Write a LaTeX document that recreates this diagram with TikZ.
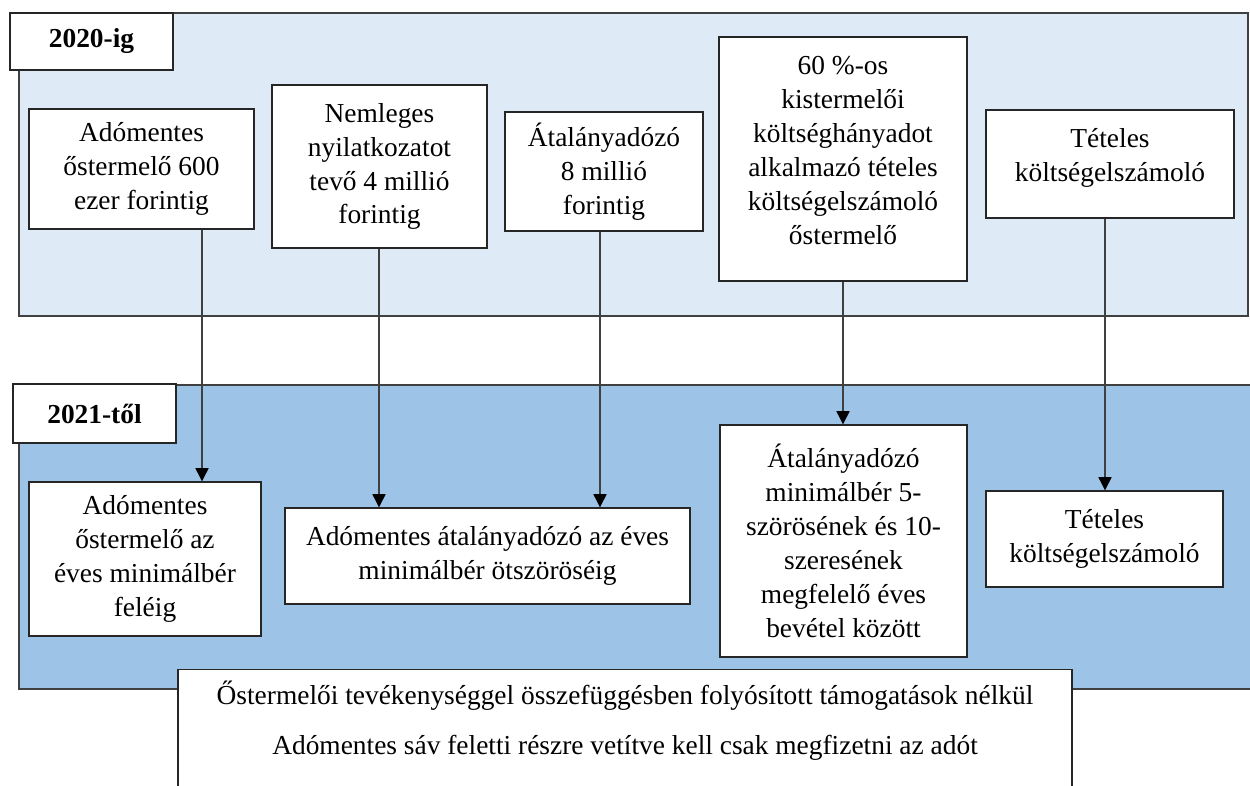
\documentclass[tikz,border=0pt]{standalone}
\usepackage{fontspec}
\setmainfont{Liberation Serif}
\usetikzlibrary{arrows.meta}

\definecolor{oldband}{HTML}{DEEBF7}
\definecolor{newband}{HTML}{9DC3E6}
\definecolor{edgegray}{HTML}{404040}

\begin{document}
\begin{tikzpicture}[x=0.02cm, y=-0.02cm,
	every node/.style={font=\fontsize{15.6pt}{19.3pt}\selectfont, align=center, inner sep=2pt},
	box/.style={rectangle, draw=black!85, line width=0.8pt, fill=white},
	yearbox/.style={box, font=\fontsize{15.6pt}{19.3pt}\selectfont\bfseries, minimum width=3.26cm},
	band/.style={draw=edgegray, line width=0.9pt},
	arrow/.style={draw=black!75, line width=0.6pt, -{Triangle[width=7.5pt,length=7.5pt,color=black]}}]
			\useasboundingbox (0,0) rectangle (1250,785);
			
			% the two periods
			\draw[band, fill=oldband] (19,13) rectangle (1248,316);
			\draw[band, fill=newband] (19,385) rectangle (1256,689);
			
			\node[yearbox, minimum height=1.14cm] (old) at (91.5,41.5){2020-ig};
			\node[yearbox, minimum height=1.18cm] (new) at (94.5,413.5){2021-től};
			
			% until 2020
			\node[box, minimum width=4.5cm, minimum height=2.4cm] (a1) at (141.5,169){Adómentes\\őstermelő 600\\ezer forintig};
			\node[box, minimum width=4.3cm, minimum height=3.26cm] (a2) at (379.5,166.5){Nemleges\\nyilatkozatot\\tevő 4 millió\\forintig};
			\node[box, minimum width=3.96cm, minimum height=2.38cm] (a3) at (604,171.5){Átalányadózó\\8 millió\\forintig};
			\node[box, minimum width=4.96cm, minimum height=4.88cm, text depth=10pt] (a4) at (843,159){60 \%-os\\kistermelői\\költséghányadot\\alkalmazó tételes\\költségelszámoló\\őstermelő};
			\node[box, minimum width=4.96cm, minimum height=2.16cm, text depth=10pt] (a5) at (1110,164){Tételes\\költségelszámoló};
			
			% from 2021
			\node[box, minimum width=4.64cm, minimum height=3.08cm] (b1) at (145,559){Adómentes\\őstermelő az\\éves minimálbér\\feléig};
			\node[box, minimum width=8.1cm, minimum height=1.92cm] (b2) at (487.5,556){Adómentes átalányadózó az éves\\minimálbér ötszöröséig};
			\node[box, minimum width=4.94cm, minimum height=4.64cm] (b3) at (843.5,541){Átalányadózó\\minimálbér 5-\\szörösének és 10-\\szeresének\\megfelelő éves\\bevétel között};
			\node[box, minimum width=4.74cm, minimum height=1.92cm] (b4) at (1104.5,539){Tételes\\költségelszámoló};
			
			\node[box, anchor=north, minimum width=17.88cm, minimum height=3cm] (note) at (625,669){};
			\node (line1) at (625,696){Őstermelői tevékenységgel összefüggésben folyósított támogatások nélkül};
			\node (line2) at (625,748){Adómentes sáv feletti részre vetítve kell csak megfizetni az adót};
			
			% arrows
			\coordinate (k1) at (202,0);
			\coordinate (k2) at (379,0);
			\coordinate (k3) at (600,0);
			\coordinate (k4) at (843,0);
			\coordinate (k5) at (1105,0);
			
			\draw[arrow] (a1.south -| k1) -- (b1.north -| k1);
			\draw[arrow] (a2.south -| k2) -- (b2.north -| k2);
			\draw[arrow] (a3.south -| k3) -- (b2.north -| k3);
			\draw[arrow] (a4.south -| k4) -- (b3.north -| k4);
			\draw[arrow] (a5.south -| k5) -- (b4.north -| k5);
\end{tikzpicture}
\end{document}
